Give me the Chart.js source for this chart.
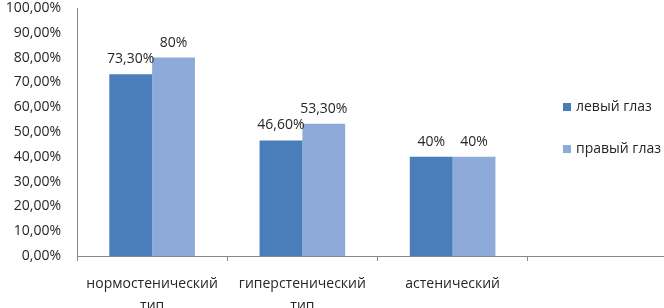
<!DOCTYPE html>
<html>
<head>
<meta charset="utf-8">
<script src="https://cdn.jsdelivr.net/npm/chart.js@4"></script>
<style>
  html, body { margin: 0; padding: 0; background: #fff; overflow: hidden; }
  #wrap { width: 664px; height: 308px; overflow: hidden; }
</style>
</head>
<body>
<div id="wrap"><canvas id="bar-chart" width="678" height="308"></canvas></div>
<script>
const categories = [["нормостенический", "тип"], ["гиперстенический", "тип"], "астенический", ""];
const seriesNames = ["левый глаз", "правый глаз"];
const leftEye = [73.3, 46.6, 40, null];
const rightEye = [80, 53.3, 40, null];
const leftEyeLabels = ["73,30%", "46,60%", "40%", ""];
const rightEyeLabels = ["80%", "53,30%", "40%", ""];
const yTicks = ["0,00%", "10,00%", "20,00%", "30,00%", "40,00%", "50,00%", "60,00%", "70,00%", "80,00%", "90,00%", "100,00%"];

const FONT = "'Open Sans', 'Liberation Sans', sans-serif";
const TEXT = "#262626";
const AXIS = "#888888";

// value labels above each bar
const barLabels = {
  id: "barLabels",
  afterDatasetsDraw(chart) {
    const ctx = chart.ctx;
    const texts = [leftEyeLabels, rightEyeLabels];
    ctx.save();
    ctx.font = "14px " + FONT;
    ctx.fillStyle = TEXT;
    ctx.textAlign = "center";
    ctx.textBaseline = "bottom";
    chart.data.datasets.forEach((ds, i) => {
      chart.getDatasetMeta(i).data.forEach((bar, j) => {
        if (ds.data[j] == null) return;
        ctx.fillText(texts[i][j], bar.x, bar.y - 8);
      });
    });
    ctx.restore();
  },
};

// legend over the empty fourth category, like the original
const sideLegend = {
  id: "sideLegend",
  afterDraw(chart) {
    const ctx = chart.ctx;
    const area = chart.chartArea;
    const x = area.left + 486;
    const ys = [107, 149];
    ctx.save();
    ctx.font = "14px " + FONT;
    ctx.textAlign = "left";
    ctx.textBaseline = "middle";
    chart.data.datasets.forEach((ds, i) => {
      ctx.fillStyle = ds.backgroundColor;
      ctx.fillRect(x, ys[i] - 4, 8, 8);
      ctx.fillStyle = TEXT;
      ctx.fillText(ds.label, x + 13, ys[i]);
    });
    ctx.restore();
  },
};

new Chart(document.getElementById("bar-chart"), {
  type: "bar",
  data: {
    labels: categories,
    datasets: [
      { label: seriesNames[0], data: leftEye, backgroundColor: "#4a7ebb" },
      { label: seriesNames[1], data: rightEye, backgroundColor: "#8eaad8" },
    ],
  },
  options: {
    responsive: false,
    animation: false,
    layout: { padding: { top: 8, right: 0, left: 0, bottom: 0 } },
    datasets: { bar: { categoryPercentage: 0.57, barPercentage: 1 } },
    plugins: { legend: { display: false }, tooltip: { enabled: false } },
    scales: {
      x: {
        grid: { offset: true, drawOnChartArea: false, tickLength: 5, color: AXIS },
        border: { color: AXIS },
        ticks: { color: TEXT, font: { family: FONT, size: 14, lineHeight: 1.55 }, padding: 12, maxRotation: 0, autoSkip: false },
        afterFit(scale) { scale.height = 52; scale.paddingLeft = 0; scale.paddingRight = 0; },
      },
      y: {
        min: 0,
        max: 100,
        grid: { display: false },
        border: { color: AXIS },
        ticks: {
          stepSize: 10,
          color: TEXT,
          font: { family: FONT, size: 14 },
          padding: 8,
          callback: (v) => yTicks[Math.round(v / 10)],
        },
        afterFit(scale) { scale.width = 77; scale.paddingTop = 0; scale.paddingBottom = 0; },
      },
    },
  },
  plugins: [barLabels, sideLegend],
});
</script>
</body>
</html>
